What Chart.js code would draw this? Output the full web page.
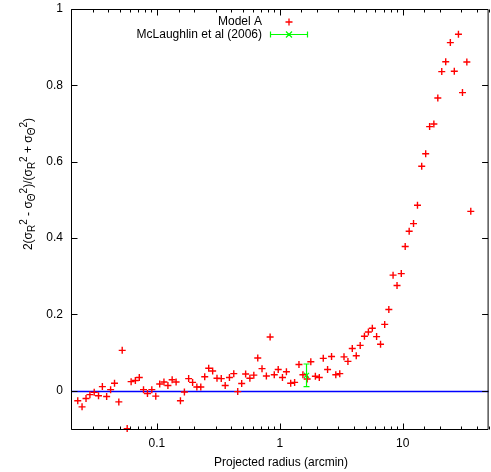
<!DOCTYPE html>
<html>
<head>
<meta charset="utf-8">
<script src="https://cdn.jsdelivr.net/npm/chart.js@4/dist/chart.umd.min.js"></script>
<style>
  html, body { margin:0; padding:0; background:#fff; width:491px; height:472px; overflow:hidden; }
  canvas { display:block; }
</style>
</head>
<body>
<canvas id="chart" width="494" height="472"></canvas>
<script>
/* Anisotropy vs projected radius - Chart.js, gnuplot look */

// Model A (red crosses)
const radius = [0.0227,0.0246,0.0265,0.0285,0.0309,0.0335,0.0360,0.0390,0.0420,0.0452,
  0.0490,0.0522,0.0573,0.0617,0.0668,0.0719,0.0778,0.0838,0.0909,0.0979,
  0.1054,0.1141,0.1229,0.1331,0.1433,0.1554,0.1674,0.1813,0.1952,0.2114,
  0.2276,0.2450,0.2639,0.2842,0.3083,0.3339,0.3595,0.3893,0.4222,0.4547,
  0.4896,0.5272,0.5708,0.6146,0.6617,0.7167,0.7776,0.8341,0.9016,0.9708,
  1.051,1.132,1.226,1.320,1.432,1.542,1.670,1.788,1.947,2.096,
  2.258,2.448,2.637,2.855,3.075,3.330,3.584,3.888,4.188,4.510,
  4.883,5.258,5.662,6.132,6.602,7.136,7.712,8.350,8.993,9.737,
  10.48,11.29,12.25,13.19,14.28,15.38,16.56,17.93,19.31,20.79,
  22.39,24.42,26.30,28.42,30.65,33.26,35.81];
const ratio = [-0.026,-0.042,-0.020,-0.010,-0.004,-0.013,0.011,-0.015,0.003,0.020,
  -0.029,0.106,-0.099,0.024,0.027,0.035,0.003,-0.007,0.003,-0.014,
  0.018,0.023,0.014,0.029,0.023,-0.026,-0.003,0.032,0.022,0.010,
  0.010,0.037,0.059,0.052,0.033,0.032,0.014,0.035,0.045,-0.002,
  0.019,0.044,0.033,0.041,0.086,0.058,0.039,0.141,0.042,0.056,
  0.035,0.050,0.020,0.022,0.069,0.042,0.031,0.076,0.038,0.035,
  0.085,0.056,0.090,0.042,0.045,0.089,0.077,0.111,0.092,0.119,
  0.143,0.154,0.164,0.142,0.122,0.174,0.213,0.303,0.276,0.307,
  0.378,0.418,0.438,0.486,0.588,0.621,0.692,0.699,0.767,0.836,
  0.862,0.912,0.837,0.934,0.781,0.861,0.470];

// McLaughlin et al (2006) (green, with error bar)
const obsRadius = [1.65];
const obsRatio = [0.0406];
const obsErr = [0.0297];

const yTicks = [0, 0.2, 0.4, 0.6, 0.8, 1];
const yTickLabels = ['0', '0.2', '0.4', '0.6', '0.8', '1'];
const xMajor = [0.1, 1, 10];
const xMajorLabels = ['0.1', '1', '10'];

const FONT = '"Liberation Sans", Arial, sans-serif';
const RED = '#ff0000', GREEN = '#00ff00', BLUE = '#0000ff';

const isMajor = (v) => xMajor.some(m => Math.abs(v - m) < m * 1e-6);

// zero axis behind the points
const zeroLine = {
  id: 'zeroLine',
  beforeDatasetsDraw(chart){
    const {ctx, chartArea:a, scales:{y}} = chart;
    const py = Math.round(y.getPixelForValue(0)) + 0.5;
    ctx.save();
    ctx.strokeStyle = BLUE; ctx.lineWidth = 1.3;
    ctx.beginPath(); ctx.moveTo(a.left, py); ctx.lineTo(a.right, py); ctx.stroke();
    ctx.restore();
  }
};

// frame, inward ticks, tick labels, axis titles, legend
const frame = {
  id: 'frame',
  afterDatasetsDraw(chart){
    const {ctx, chartArea:a, scales:{x, y}} = chart;
    ctx.save();

    // error bar on the observed point
    const meta = chart.getDatasetMeta(1);
    meta.data.forEach((pt, i) => {
      const top = y.getPixelForValue(obsRatio[i] + obsErr[i]);
      const bot = y.getPixelForValue(obsRatio[i] - obsErr[i]);
      ctx.strokeStyle = GREEN; ctx.lineWidth = 1.2;
      ctx.beginPath();
      ctx.moveTo(pt.x, top); ctx.lineTo(pt.x, bot);
      ctx.moveTo(pt.x - 3, top); ctx.lineTo(pt.x + 3, top);
      ctx.moveTo(pt.x - 3, bot); ctx.lineTo(pt.x + 3, bot);
      ctx.stroke();
    });

    // frame
    const L = a.left + 0.5, R = a.right - 0.5, T = a.top + 0.5, B = a.bottom + 0.5;
    ctx.strokeStyle = '#000'; ctx.lineWidth = 1;
    ctx.beginPath();
    ctx.moveTo(L, T); ctx.lineTo(R, T); ctx.lineTo(R, B); ctx.lineTo(L, B); ctx.closePath();
    ctx.stroke();

    // x ticks (log, bottom and top mirrored)
    ctx.beginPath();
    x.ticks.forEach(t => {
      const px = Math.round(x.getPixelForValue(t.value)) + 0.5;
      const len = isMajor(t.value) ? 6 : 3;
      ctx.moveTo(px, B); ctx.lineTo(px, B - len);
      ctx.moveTo(px, T); ctx.lineTo(px, T + len);
    });
    // y ticks (left and right mirrored)
    yTicks.forEach(v => {
      const py = Math.round(y.getPixelForValue(v)) + 0.5;
      ctx.moveTo(L, py); ctx.lineTo(L + 6, py);
      ctx.moveTo(R, py); ctx.lineTo(R - 6, py);
    });
    ctx.stroke();

    // tick labels
    ctx.fillStyle = '#000';
    ctx.font = '12px ' + FONT;
    ctx.textBaseline = 'middle';
    ctx.textAlign = 'center';
    xMajor.forEach((v, i) => ctx.fillText(xMajorLabels[i], x.getPixelForValue(v), 444));
    ctx.textAlign = 'right';
    yTicks.forEach((v, i) => ctx.fillText(yTickLabels[i], 63, y.getPixelForValue(v)));

    // x title
    ctx.textAlign = 'center';
    ctx.fillText('Projected radius (arcmin)', 281, 462.5);

    // y title with sub/superscripts
    const parts = [
      ['2(σ','n'],['R','b'],['2','p'],[' - σ','n'],['Θ','b'],['2','p'],
      [')/(σ','n'],['R','b'],['2','p'],[' + σ','n'],['Θ','b'],['2','p'],[')','n']
    ];
    const big = '12px ' + FONT, small = '10px ' + FONT;
    let total = 0;
    parts.forEach(([t,k]) => { ctx.font = k === 'n' ? big : small; total += ctx.measureText(t).width; });
    ctx.translate(32, 184);
    ctx.rotate(-Math.PI / 2);
    ctx.textAlign = 'left'; ctx.textBaseline = 'alphabetic';
    let cx = -total / 2;
    parts.forEach(([t,k]) => {
      ctx.font = k === 'n' ? big : small;
      const dy = k === 'b' ? 3 : (k === 'p' ? -5 : 0);
      ctx.fillText(t, cx, dy);
      cx += ctx.measureText(t).width;
    });
    ctx.setTransform(1, 0, 0, 1, 0, 0);

    // legend
    ctx.font = '12px ' + FONT;
    ctx.textAlign = 'right'; ctx.textBaseline = 'middle';
    ctx.fillText('Model A', 262, 22);
    ctx.fillText('McLaughlin et al (2006)', 262, 34.5);
    ctx.lineWidth = 1.3;
    ctx.strokeStyle = RED;
    ctx.beginPath();
    ctx.moveTo(285.5, 22); ctx.lineTo(292.5, 22);
    ctx.moveTo(289, 18.5); ctx.lineTo(289, 25.5);
    ctx.stroke();
    ctx.strokeStyle = GREEN;
    ctx.lineWidth = 1.2;
    ctx.beginPath();
    ctx.moveTo(270, 34.5); ctx.lineTo(308, 34.5);
    ctx.moveTo(270.5, 31.5); ctx.lineTo(270.5, 37.5);
    ctx.moveTo(307.5, 31.5); ctx.lineTo(307.5, 37.5);
    ctx.moveTo(286, 31.5); ctx.lineTo(292, 37.5);
    ctx.moveTo(292, 31.5); ctx.lineTo(286, 37.5);
    ctx.stroke();

    ctx.restore();
  }
};

new Chart(document.getElementById('chart'), {
  type: 'scatter',
  data: {
    datasets: [
      {
        label: 'Model A',
        data: radius.map((r, i) => ({x: r, y: ratio[i]})),
        pointStyle: 'cross', pointRadius: 3.5, pointBorderWidth: 1.4,
        borderColor: RED, backgroundColor: RED,
        pointBorderColor: RED, pointBackgroundColor: RED, clip: 4
      },
      {
        label: 'McLaughlin et al (2006)',
        data: obsRadius.map((r, i) => ({x: r, y: obsRatio[i]})),
        pointStyle: 'crossRot', pointRadius: 3.5, pointBorderWidth: 1.2,
        borderColor: GREEN, backgroundColor: GREEN,
        pointBorderColor: GREEN, pointBackgroundColor: GREEN
      }
    ]
  },
  options: {
    responsive: false,
    animation: false,
    events: [],
    layout: { padding: { left: 71, top: 9, right: 0, bottom: 43 } },
    plugins: { legend: { display: false }, tooltip: { enabled: false } },
    scales: {
      x: {
        type: 'logarithmic', min: 0.02, max: 50,
        grid: { display: false, drawTicks: false },
        border: { display: false },
        ticks: { display: false }
      },
      y: {
        type: 'linear', min: -0.1, max: 1,
        grid: { display: false, drawTicks: false },
        border: { display: false },
        ticks: { display: false }
      }
    }
  },
  plugins: [zeroLine, frame]
});
</script>
</body>
</html>
